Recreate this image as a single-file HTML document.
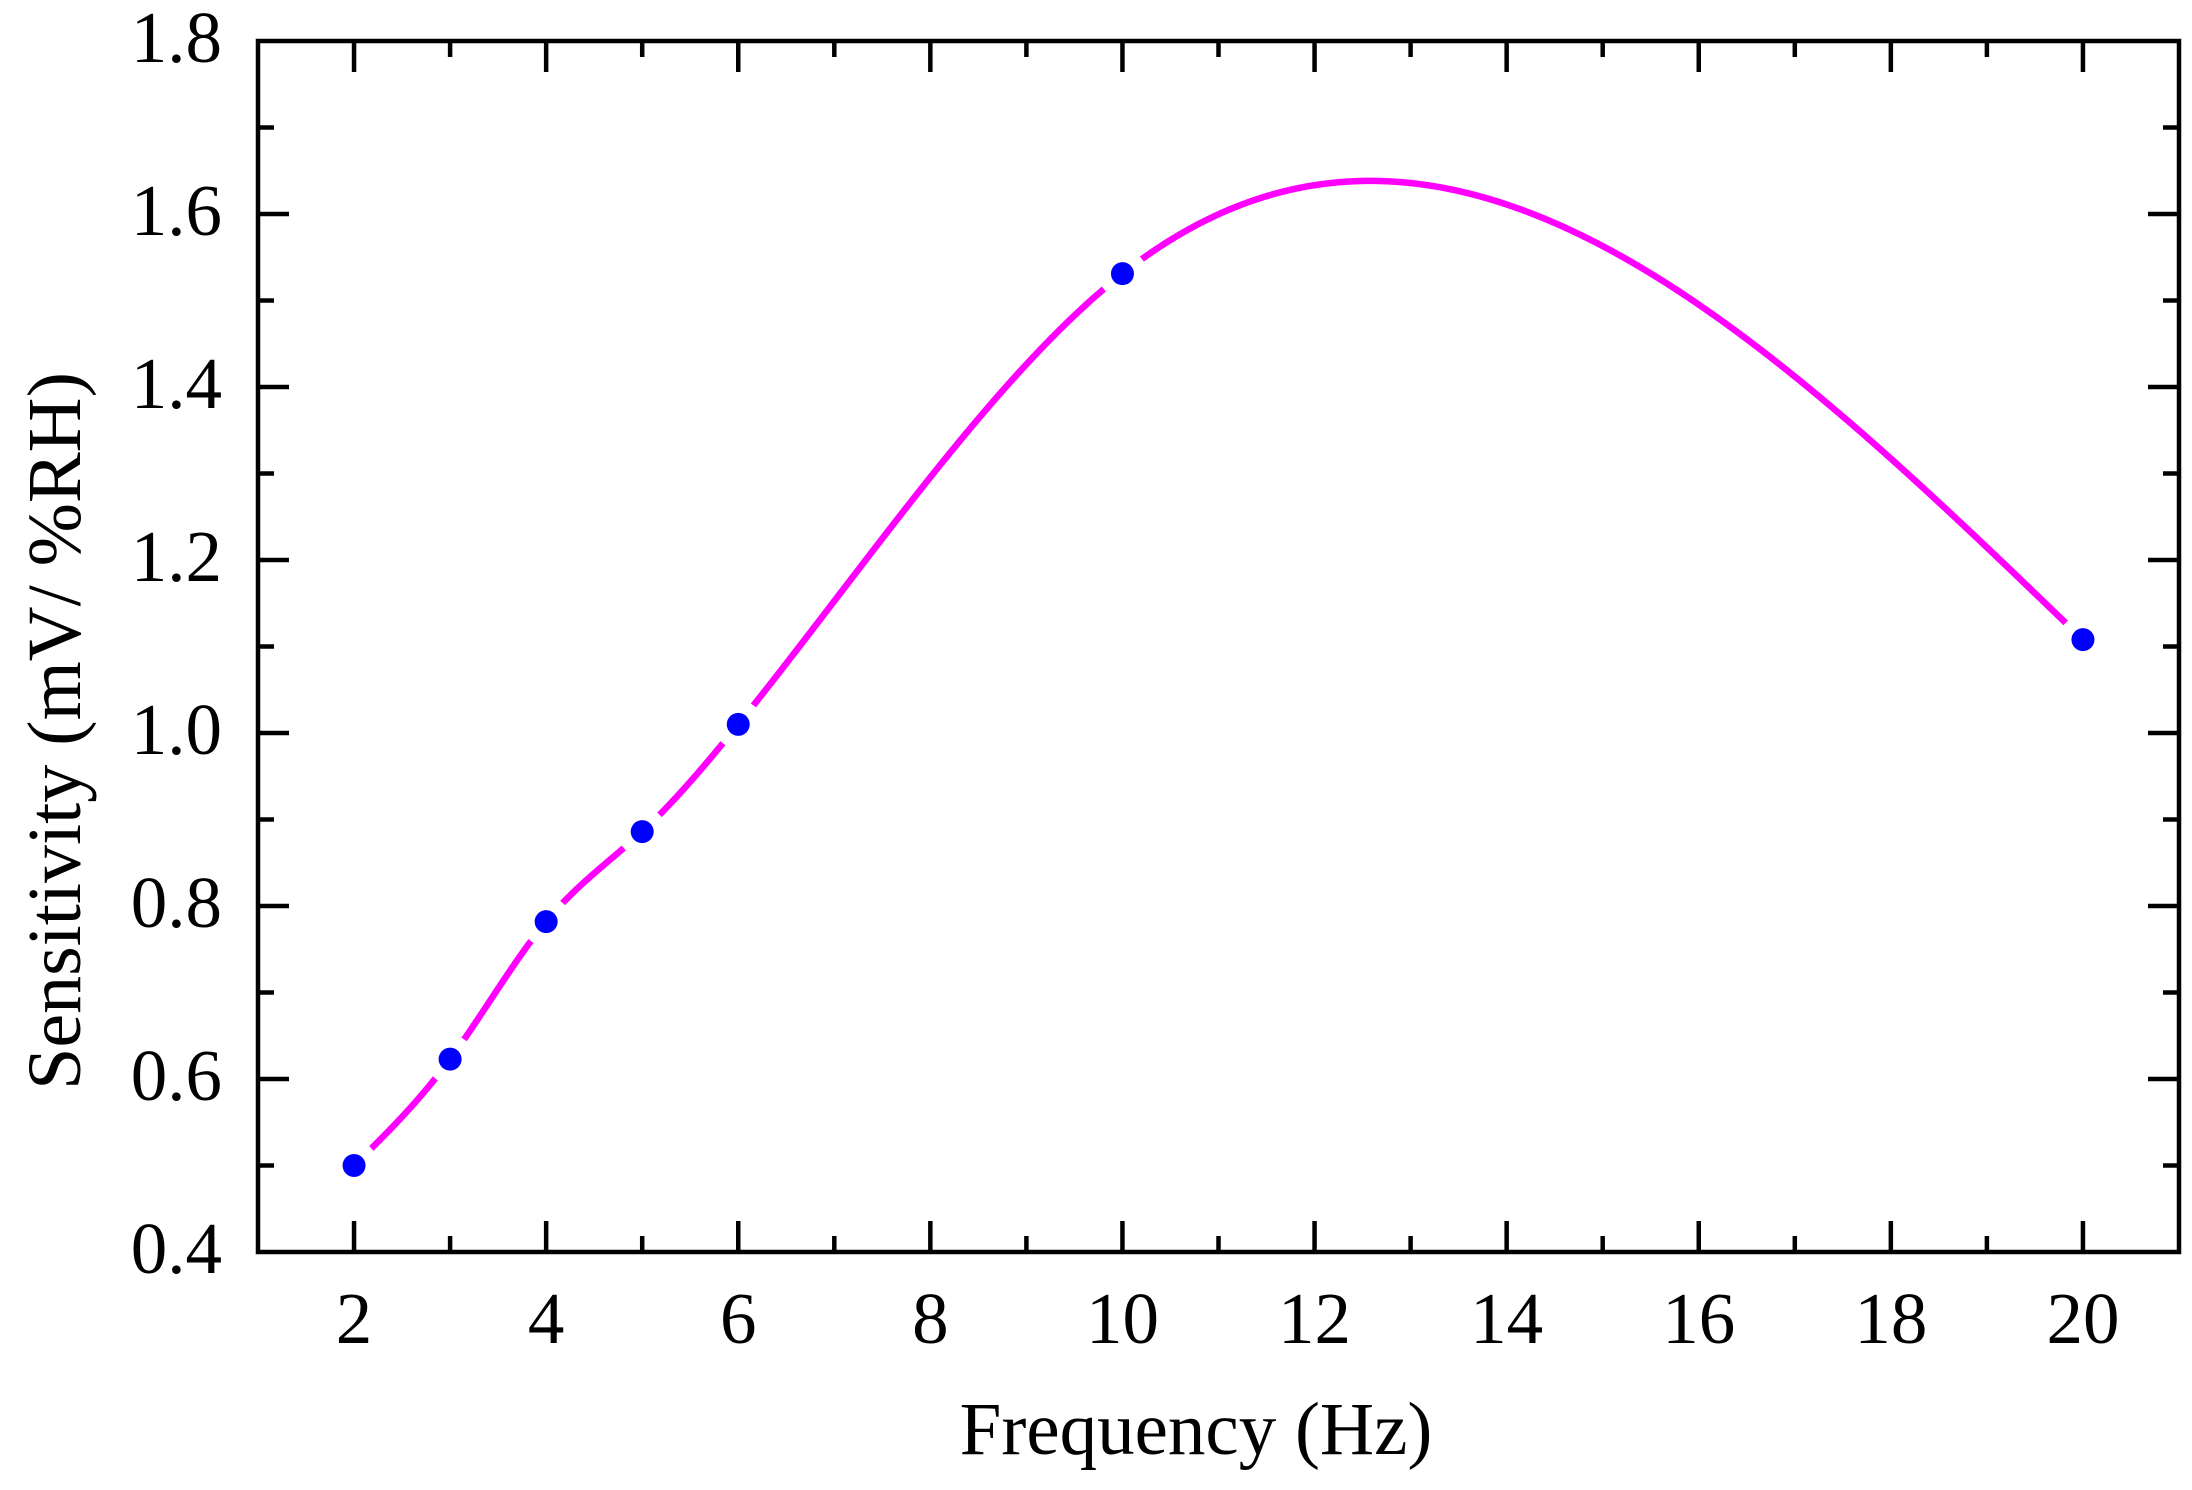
<!DOCTYPE html>
<html><head><meta charset="utf-8"><style>
html,body{margin:0;padding:0;background:#fff;}
svg{display:block;font-family:"Liberation Serif",serif;}
</style></head><body>
<svg id="chart" width="2192" height="1490" viewBox="0 0 2192 1490" xmlns="http://www.w3.org/2000/svg">
<g id="ticks"></g>
<g id="curve"></g>
<g id="pts"></g>
<rect x="258" y="41" width="1921" height="1211" fill="none" stroke="#000" stroke-width="4.5"/>
<g id="labels" font-size="73" fill="#000"></g>
<text x="1196" y="1454" font-size="75" text-anchor="middle">Frequency (Hz)</text>
<text transform="translate(80,731) rotate(-90)" font-size="76" text-anchor="middle">Sensitivity (mV/ %RH)</text>
</svg>
<script>
const freqs = [2, 3, 4, 5, 6, 10, 20];
const sens = [0.5, 0.623, 0.782, 0.886, 1.01, 1.531, 1.108];
const xTicks = [2, 4, 6, 8, 10, 12, 14, 16, 18, 20];
const yTicks = [0.4, 0.6, 0.8, 1.0, 1.2, 1.4, 1.6, 1.8];

const L=258,R=2179,T=41,B=1252,X0=1,X1=21,Y0=0.4,Y1=1.8;
const sx=v=>L+(v-X0)/(X1-X0)*(R-L);
const sy=v=>B-(v-Y0)/(Y1-Y0)*(B-T);
const NS="http://www.w3.org/2000/svg";
function mk(tag,attrs,parent){const e=document.createElementNS(NS,tag);for(const k in attrs)e.setAttribute(k,attrs[k]);parent.appendChild(e);return e;}

const tg=document.getElementById('ticks');
for(let v=X0+1;v<X1;v+=1){
  const major=Math.abs(v%2)<1e-9;const len=major?31:16;const x=sx(v);
  const t1=mk('line',{x1:x,x2:x,y1:B,y2:B-len,stroke:'#000','stroke-width':4.5},tg);
  
  
  const t2=mk('line',{x1:x,x2:x,y1:T,y2:T+len,stroke:'#000','stroke-width':4.5},tg);
  
  
}
for(let i=1;i<14;i++){
  const v=Y0+i*0.1;const major=i%2===0;const len=major?31:16;const y=sy(v);
  const t1=mk('line',{x1:L,x2:L+len,y1:y,y2:y,stroke:'#000','stroke-width':4.5},tg);
  
  
  const t2=mk('line',{x1:R,x2:R-len,y1:y,y2:y,stroke:'#000','stroke-width':4.5},tg);
  
  
}
const lg=document.getElementById('labels');
xTicks.forEach(v=>{const t=mk('text',{x:sx(v),y:1343,'text-anchor':'middle'},lg);t.textContent=String(v);
  
  });
yTicks.forEach(v=>{const t=mk('text',{x:222,y:sy(v)+21,'text-anchor':'end'},lg);t.textContent=v.toFixed(1);
  
  });

function spline(xs,ys){
  const n=xs.length,h=[],a=[],l=[1],mu=[0],z=[0],c=new Array(n).fill(0),b=[],d=[];
  for(let i=0;i<n-1;i++)h[i]=xs[i+1]-xs[i];
  for(let i=1;i<n-1;i++)a[i]=3/h[i]*(ys[i+1]-ys[i])-3/h[i-1]*(ys[i]-ys[i-1]);
  for(let i=1;i<n-1;i++){l[i]=2*(xs[i+1]-xs[i-1])-h[i-1]*mu[i-1];mu[i]=h[i]/l[i];z[i]=(a[i]-h[i-1]*z[i-1])/l[i];}
  l[n-1]=1;z[n-1]=0;
  for(let j=n-2;j>=0;j--){c[j]=z[j]-mu[j]*c[j+1];b[j]=(ys[j+1]-ys[j])/h[j]-h[j]*(c[j+1]+2*c[j])/3;d[j]=(c[j+1]-c[j])/(3*h[j]);}
  return x=>{let j=0;while(j<n-2&&x>xs[j+1])j++;const dx=x-xs[j];return ys[j]+b[j]*dx+c[j]*dx*dx+d[j]*dx*dx*dx;};
}
const f=spline(freqs,sens);
const cg=document.getElementById('curve');
const gap=24;
let seg=[];
const segs=[];
const xa=freqs[0],xb=freqs[freqs.length-1];
for(let k=0;k<=3000;k++){
  const x=xa+(xb-xa)*k/3000;const px=sx(x),py=sy(f(x));
  let near=false;
  for(let i=0;i<freqs.length;i++){const dx=px-sx(freqs[i]),dy=py-sy(sens[i]);if(dx*dx+dy*dy<gap*gap){near=true;break;}}
  if(near){if(seg.length>1)segs.push(seg);seg=[];}else seg.push(px.toFixed(1)+','+py.toFixed(1));
}
if(seg.length>1)segs.push(seg);
segs.forEach(s=>{const p=mk('polyline',{points:s.join(' '),fill:'none',stroke:'#ff00ff','stroke-width':6.5,'stroke-linejoin':'round'},cg);
  
  });
const pg=document.getElementById('pts');
freqs.forEach((x,i)=>{const c=mk('circle',{cx:sx(x),cy:sy(sens[i]),r:11.5,fill:'#0000ff'},pg);
  
  });
</script>
</body></html>
